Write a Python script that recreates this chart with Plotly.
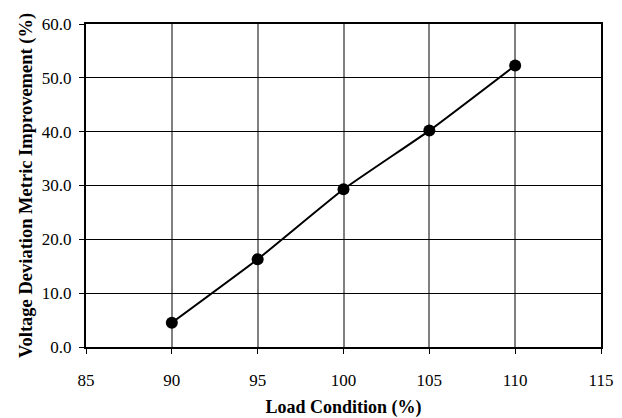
import plotly.graph_objects as go

load_condition = [90, 95, 100, 105, 110]
improvement = [4.5, 16.3, 29.3, 40.2, 52.3]

x_ticks = [85, 90, 95, 100, 105, 110, 115]
y_ticks = [0, 10, 20, 30, 40, 50, 60]

fig = go.Figure()
fig.add_trace(go.Scatter(
    x=load_condition, y=improvement, mode="lines+markers",
    line=dict(color="black", width=2, shape="spline", smoothing=0.4),
    marker=dict(color="black", size=12),
    showlegend=False,
))

font_family = "Liberation Serif, Times New Roman, serif"
fig.update_layout(
    width=614, height=410,
    margin=dict(l=78, r=21, t=16, b=71, autoexpand=False),
    paper_bgcolor="white", plot_bgcolor="white",
    font=dict(family=font_family, size=17, color="black"),
    xaxis=dict(
        range=[85, 115], tickvals=x_ticks, ticktext=[str(v) for v in x_ticks],
        showgrid=True, gridcolor="#808080", gridwidth=1.5,
        showline=True, linecolor="black", linewidth=2, mirror=True,
        ticks="outside", ticklen=5, tickcolor="black", tickwidth=1,
        ticklabelstandoff=12, automargin=False,
        zeroline=False,
        title=dict(text="<b>Load Condition (%)</b>", font=dict(size=18), standoff=19),
    ),
    yaxis=dict(
        range=[0, 60], tickvals=y_ticks, ticktext=[f"{v:.1f}" for v in y_ticks],
        showgrid=True, gridcolor="#000000", gridwidth=1,
        showline=True, linecolor="black", linewidth=2, mirror=True,
        ticks="outside", ticklen=5, tickcolor="black", tickwidth=1,
        ticklabelstandoff=4, automargin=False,
        zeroline=False,
        title=dict(text="<b>Voltage Deviation Metric Improvement (%)</b>", font=dict(size=18.5), standoff=4),
    ),
)

fig.write_html("out.html")
